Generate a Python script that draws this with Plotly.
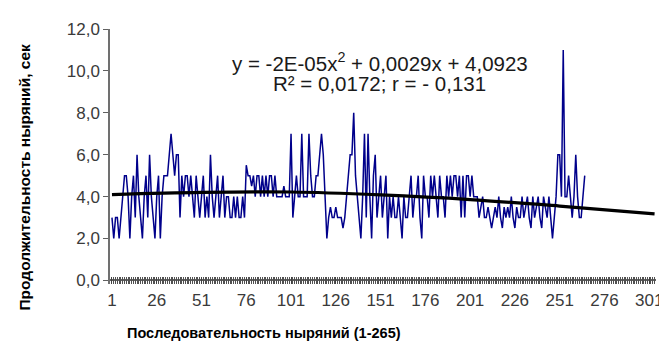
import plotly.graph_objects as go

# Dive durations (sec), dives 1..265
durations = [
    3, 2, 3, 3, 2, 3, 4, 5, 5, 4,
    2, 4, 5, 3, 6, 4, 3, 2, 4, 5,
    3, 6, 4, 3, 2, 4, 5, 2, 4, 5,
    5, 5, 6, 7, 6, 5, 6, 6, 3, 5,
    4, 5, 5, 4, 5, 4, 3, 5, 4, 3,
    4, 5, 3, 4, 3, 6, 4, 3, 4, 5,
    3, 4, 5, 3, 4, 4, 3, 3, 4, 3,
    4, 3, 3, 4, 3, 5.5, 5, 5, 4.5, 5,
    4, 5, 5, 4, 5, 4, 5, 4, 5, 5,
    4, 5, 4, 4, 4, 4, 4.5, 4, 4, 4,
    7, 3, 4, 5, 4, 4, 7, 4, 4, 4,
    7, 5, 4, 4, 5, 5, 6, 7, 6, 4,
    2, 3, 3.5, 3, 3, 3.5, 3, 3, 3, 2.5,
    3, 4, 5, 6, 6, 8, 5, 4, 3, 2,
    4, 7, 3, 7, 4, 2, 5, 6, 3, 4,
    5, 3, 4, 5, 2, 4, 3, 4, 3, 3,
    4, 3, 2, 4, 3, 3, 4, 5, 3, 4,
    4, 5, 3, 2, 5, 4, 4, 3, 5, 4,
    5, 4, 3, 5, 4, 4, 3, 5, 4, 5,
    4, 5, 5, 4, 5, 3, 5, 3, 5, 5,
    4, 5, 4, 4, 4, 3, 3.5, 4, 3, 3,
    3.5, 3, 2.5, 3, 3.5, 3, 4, 3, 2.5, 3.5,
    3, 3.5, 3, 4, 3, 2.5, 3.5, 3, 3, 4,
    3, 3.5, 4, 3, 2.5, 4, 3, 3.5, 4, 3,
    2.5, 4, 3.5, 3, 4, 3, 2, 3, 4, 6,
    6, 4, 11, 4, 4, 5, 4, 3, 4, 6,
    4, 3, 3, 4, 5,
]
dive_numbers = list(range(1, len(durations) + 1))

# Polynomial trend line
trend_x = [1, 51, 101, 151, 201, 251, 304]
trend_y = [4.1, 4.2, 4.22, 4.08, 3.86, 3.55, 3.18]

x_tick_vals = [1, 26, 51, 76, 101, 126, 151, 176, 201, 226, 251, 276, 301]
y_tick_vals = [0, 2, 4, 6, 8, 10, 12]

eq_line1 = "y = -2E-05x<sup>2</sup> + 0,0029x + 4,0923"
eq_line2 = "R² = 0,0172; r = - 0,131"
x_title = "Последовательность ныряний (1-265)"
y_title = "Продолжительность ныряний, сек"

W, H = 667, 347
L, R, T, B = 102, 17, 18, 71
pw, ph = W - L - R, H - T - B


def px_to_paper(px, py):
    return (px - L) / pw, 1 - (py - T) / ph


fig = go.Figure()
fig.add_trace(go.Scatter(x=dive_numbers, y=durations, mode="lines",
                         line=dict(color="#00008B", width=1.5), hoverinfo="skip"))
fig.add_trace(go.Scatter(x=trend_x, y=trend_y, mode="lines",
                         line=dict(color="#000000", width=3.2, shape="spline"), hoverinfo="skip"))

fnt = "Liberation Sans, Arial, sans-serif"
ann = []
for text, (px, py), size, color, angle in [
    (eq_line1, (373, 51), 20.5, "#1a1a1a", 0),
    (eq_line2, (372, 73), 20.5, "#1a1a1a", 0),
    ("<b>" + x_title + "</b>", (257, 326), 14.5, "#000000", 0),
    ("<b>" + y_title + "</b>", (16, 168), 15.5, "#000000", -90),
]:
    ax, ay = px_to_paper(px, py)
    ann.append(dict(text=text, x=ax, y=ay, xref="paper", yref="paper", showarrow=False,
                    xanchor="center", yanchor="middle", textangle=angle,
                    font=dict(size=size, color=color, family=fnt)))

fig.update_layout(
    width=W, height=H,
    margin=dict(l=L, r=R, t=T, b=B),
    paper_bgcolor="white", plot_bgcolor="white",
    showlegend=False,
    separators=", ",
    font=dict(family=fnt, size=17, color="#3a3a3a"),
    xaxis=dict(range=[-0.1, 304.8], tickmode="array", tickvals=x_tick_vals,
               showgrid=False, zeroline=False, showline=False,
               ticks="inside", ticklen=7, tickwidth=1, tickcolor="#404040",
               minor=dict(dtick=1, tick0=1, ticks="inside", ticklen=7, tickwidth=1,
                          tickcolor="#505050", showgrid=False),
               ticklabelstandoff=4,
               tickfont=dict(size=17, color="#3a3a3a")),
    yaxis=dict(range=[-0.17, 12], tickmode="array", tickvals=y_tick_vals, tickformat=".1f",
               showgrid=False, zeroline=True, zerolinecolor="#606060", zerolinewidth=1.5,
               showline=True, linecolor="#707070", linewidth=1.5,
               ticks="outside", ticklen=5, tickcolor="#606060",
               tickfont=dict(size=17, color="#3a3a3a")),
    annotations=ann,
)

fig.write_html("out.html")
